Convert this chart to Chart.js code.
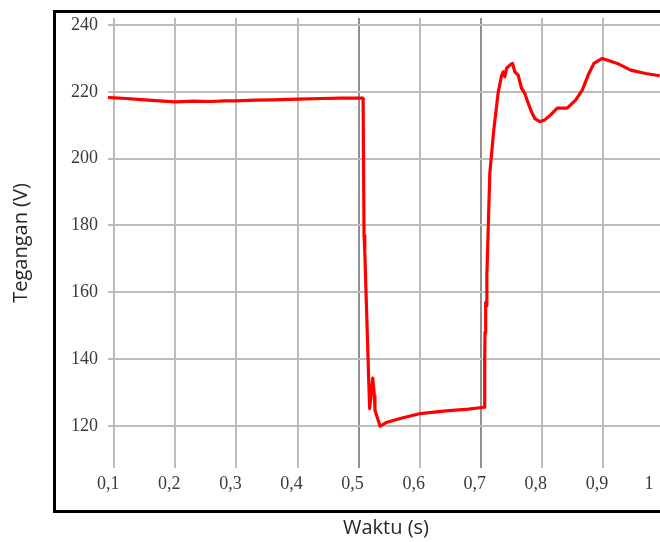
<!DOCTYPE html>
<html>
<head>
<meta charset="utf-8">
<script src="https://cdn.jsdelivr.net/npm/chart.js@4.4.1/dist/chart.umd.min.js"></script>
<style>
  html, body { margin: 0; padding: 0; background: #fff; overflow: hidden; }
  #frame {
    position: absolute; left: 53px; top: 10px;
    width: 700px; height: 503px;
    box-sizing: border-box; border: 3px solid #000;
  }
  #wrap { position: absolute; left: 0; top: 0; width: 664px; height: 542px; }
</style>
</head>
<body>
<div id="frame"></div>
<div id="wrap"><canvas id="voltage-chart"></canvas></div>
<script>
// Time (s) and voltage (V)
const timeValues = [
  0.0897, 0.10, 0.12, 0.15, 0.18, 0.20, 0.23, 0.26, 0.28, 0.30,
  0.33, 0.36, 0.40, 0.44, 0.47, 0.50, 0.5074,
  0.5089, 0.5104, 0.5099, 0.5164, 0.5181, 0.5232, 0.5258, 0.5268, 0.5352,
  0.545, 0.568, 0.601, 0.643, 0.680, 0.702, 0.706,
  0.7065, 0.7070, 0.7080, 0.7090, 0.7100, 0.7148, 0.7213, 0.7247, 0.7285,
  0.7340, 0.7367, 0.7394, 0.7422, 0.7476, 0.7520, 0.7558, 0.7612, 0.7668,
  0.7722, 0.7776, 0.7831, 0.7885, 0.7967, 0.8049, 0.8143, 0.8252, 0.8416,
  0.8552, 0.8662, 0.8770, 0.8852, 0.8990, 0.9236, 0.9454, 0.9700, 0.9930
];
const voltageValues = [
  218.3, 218.2, 218.0, 217.6, 217.2, 217.0, 217.2, 217.1, 217.3, 217.3,
  217.5, 217.6, 217.8, 218.0, 218.1, 218.1, 218.1,
  177.0, 176.0, 172.0, 134.7, 125.2, 134.3, 129.0, 124.7, 119.9,
  121.0, 122.2, 123.7, 124.5, 125.0, 125.5, 125.6,
  140.0, 148.0, 157.0, 156.0, 165.0, 195.6, 208.6, 213.8, 219.8,
  224.8, 226.0, 224.5, 227.0, 228.0, 228.5, 226.0, 225.0, 221.0,
  219.5, 216.6, 214.0, 212.0, 211.1, 211.6, 213.1, 215.1, 215.1,
  217.5, 220.5, 225.5, 228.5, 230.0, 228.5, 226.5, 225.5, 224.8
];
const timeTicks = [0.1, 0.2, 0.3, 0.4, 0.5, 0.6, 0.7, 0.8, 0.9, 1];
const voltageTicks = [120, 140, 160, 180, 200, 220, 240];

document.addEventListener('DOMContentLoaded', () => {
  const points = timeValues.map((t, i) => ({ x: t, y: voltageValues[i] }));
  const ctx = document.getElementById('voltage-chart').getContext('2d');

  const tickFont = { family: '"Liberation Serif", serif', size: 18 };
  const titleFont = { family: '"Open Sans", sans-serif', size: 20 };

  new Chart(ctx, {
    type: 'line',
    data: {
      datasets: [{
        data: points,
        borderColor: '#ff0000',
        borderWidth: 3.2,
        borderJoinStyle: 'round',
        pointRadius: 0,
        tension: 0,
        fill: false
      }]
    },
    options: {
      responsive: true,
      maintainAspectRatio: false,
      animation: false,
      layout: { padding: { left: 0, top: 18, right: 0, bottom: 0 } },
      plugins: {
        legend: { display: false },
        tooltip: { enabled: false }
      },
      scales: {
        x: {
          type: 'linear',
          min: 0.0897,
          max: 1.0,
          afterBuildTicks: scale => {
            scale.ticks = timeTicks.map(v => ({ value: v }));
          },
          afterFit: scale => {
            scale.height = 74;
            scale.paddingLeft = 0;
            scale.paddingRight = 0;
          },
          border: { display: false },
          grid: {
            drawTicks: false,
            lineWidth: 2,
            color: c => {
              const v = c.tick ? c.tick.value : 0;
              return (Math.abs(v - 0.5) < 1e-6 || Math.abs(v - 0.7) < 1e-6) ? '#8e8e8e' : '#bcbcbc';
            }
          },
          ticks: {
            padding: 5,
            labelOffset: -6,
            maxRotation: 0,
            autoSkip: false,
            font: tickFont,
            color: '#3a3a3a',
            callback: value => value === 1 ? '1    ' : value.toFixed(1).replace('.', ',')
          },
          title: {
            display: true,
            text: 'Waktu (s)',
            font: titleFont,
            color: '#262626',
            padding: { top: 0, bottom: 2 }
          }
        },
        y: {
          min: 107.4,
          max: 242.1,
          afterBuildTicks: scale => {
            scale.ticks = voltageTicks.map(v => ({ value: v }));
          },
          afterFit: scale => {
            scale.width = 108;
            scale.paddingTop = 0;
            scale.paddingBottom = 0;
          },
          border: { display: false },
          grid: {
            drawTicks: false,
            lineWidth: 2,
            color: '#bcbcbc'
          },
          ticks: {
            padding: 10,
            font: tickFont,
            color: '#3a3a3a'
          },
          title: {
            display: true,
            text: 'Tegangan (V)',
            font: titleFont,
            color: '#262626',
            padding: { top: 9, bottom: 0 }
          }
        }
      }
    }
  });
});
</script>
</body>
</html>
